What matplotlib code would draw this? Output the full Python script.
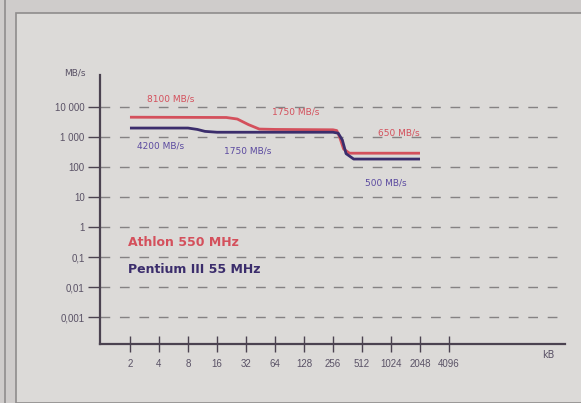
import numpy as np
import matplotlib.pyplot as plt
from matplotlib.patches import Rectangle

# block size in kB and bandwidth in MB/s
athlon_kb = [2, 20, 26, 34, 44, 64, 256, 280, 300, 330, 380, 2048]
athlon_mbs = [4600, 4500, 4000, 2600, 1850, 1800, 1750, 1650, 1000, 400, 290, 290]
pentium_kb = [2, 8, 10, 12, 16, 64, 256, 290, 320, 350, 420, 2048]
pentium_mbs = [2000, 2000, 1800, 1550, 1450, 1450, 1450, 1350, 800, 280, 185, 185]

x_ticks = [2, 4, 8, 16, 32, 64, 128, 256, 512, 1024, 2048, 4096]
y_ticks = [10000, 1000, 100, 10, 1, 0.1, 0.01, 0.001]
y_labels = ["10 000", "1 000", "100", "10", "1", "0,1", "0,01", "0,001"]

red = "#d4505c"
blue = "#3b2d6c"
label_blue = "#5b4aa0"
txt = "#5a5266"

W, H = 581, 403
fig = plt.figure(figsize=(W / 100, H / 100), dpi=100)
fig.patch.set_facecolor("#cfcccb")
fig.patches.append(Rectangle((16 / W, 0), 1, (H - 13) / H, transform=fig.transFigure,
                             facecolor="#dcdad8", edgecolor="#8f8c8c", lw=1.2, zorder=-5))
fig.patches.append(Rectangle((4 / W, 0), 1.5 / W, 1, transform=fig.transFigure,
                             facecolor="#9a9797", edgecolor="none", zorder=-5))

ax = fig.add_axes([100 / W, 59 / H, 465 / W, 269 / H])
ax.set_facecolor("none")
ax.set_xscale("log", base=2)
ax.set_yscale("log")
ax.set_xlim(0.977, 65536)
ax.set_ylim(1.26e-4, 10 ** 5.07)

for s in ["top", "right"]:
    ax.spines[s].set_visible(False)
for s in ["left", "bottom"]:
    ax.spines[s].set_color("#4b4250")
    ax.spines[s].set_linewidth(1.6)

ax.set_xticks(x_ticks)
ax.set_xticklabels([str(v) for v in x_ticks])
ax.set_yticks(y_ticks)
ax.set_yticklabels(y_labels)
ax.minorticks_off()
ax.tick_params(axis="x", direction="inout", length=12, width=1, colors="#4b4250",
               labelsize=7, labelcolor=txt, pad=5)
ax.tick_params(axis="y", direction="out", length=9, width=1, colors="#4b4250",
               labelsize=7, labelcolor=txt, pad=2)
for lab in ax.get_xticklabels() + ax.get_yticklabels():
    lab.set_fontfamily("Liberation Sans")

ax.yaxis.grid(True, color="#858283", lw=1, dashes=(7, 7))
ax.xaxis.grid(False)

ax.plot(athlon_kb, athlon_mbs, color=red, lw=2, solid_capstyle="butt")
ax.plot(pentium_kb, pentium_mbs, color=blue, lw=2, solid_capstyle="butt")

fs = 6.5
ax.text(3.0, 18000, "8100 MB/s", color=red, fontsize=fs, va="center")
ax.text(60, 6800, "1750 MB/s", color=red, fontsize=fs, va="center")
ax.text(750, 1350, "650 MB/s", color=red, fontsize=fs, va="center")
ax.text(2.36, 500, "4200 MB/s", color=label_blue, fontsize=fs, va="center")
ax.text(19, 340, "1750 MB/s", color=label_blue, fontsize=fs, va="center")
ax.text(550, 29, "500 MB/s", color=label_blue, fontsize=fs, va="center")

ax.text(1.9, 0.316, "Athlon 550 MHz", color=red, fontsize=9, fontweight="bold", va="center")
ax.text(1.9, 0.037, "Pentium III 55 MHz", color=blue, fontsize=9, fontweight="bold", va="center")

fig.text(75 / W, 1 - 73 / H, "MB/s", color=txt, fontsize=6.5, ha="center", va="center")
fig.text(548 / W, 1 - 355 / H, "kB", color=txt, fontsize=7, ha="center", va="center")

fig.savefig("out.png", dpi=100, facecolor=fig.get_facecolor())
